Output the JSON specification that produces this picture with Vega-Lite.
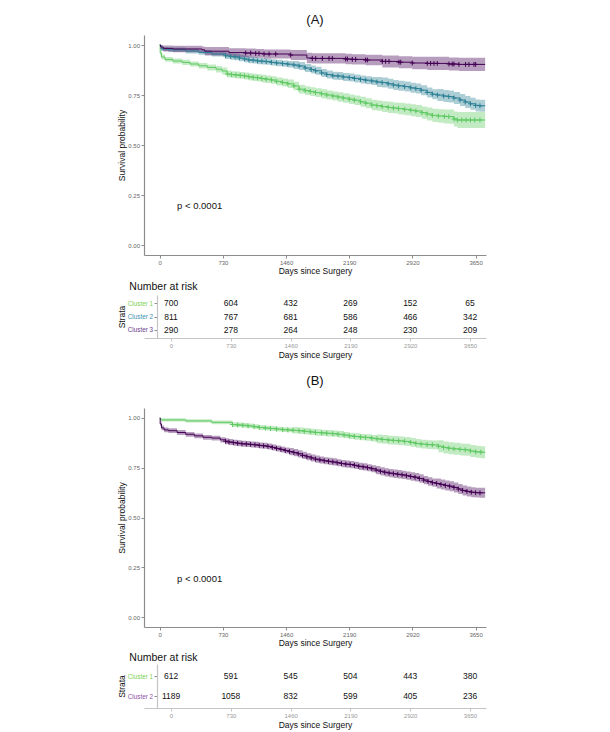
{
  "$schema": "https://vega.github.io/schema/vega-lite/v6.json",
  "background": "white",
  "padding": {"left": 117, "top": 14, "right": 10, "bottom": 2},
  "config": {
    "font": "Liberation Sans",
    "view": {"stroke": null},
    "axis": {
      "grid": false,
      "domainColor": "#8c8c8c",
      "domainWidth": 1.2,
      "tickColor": "#8c8c8c",
      "tickSize": 3,
      "labelColor": "#666666",
      "labelFontSize": 6,
      "labelPadding": 1.5,
      "titleFontSize": 8.5,
      "titleFontWeight": "normal",
      "titleColor": "#111111",
      "titlePadding": 1
    },
    "title": {"fontSize": 13, "fontWeight": "normal", "color": "#111111"}
  },
  "datasets": {
    "km": [
      {"p":"A","g":"Cluster 1","t":0,"s":1,"lo":1,"hi":1,"c":0},
      {"p":"A","g":"Cluster 1","t":5,"s":0.96,"lo":0.948,"hi":0.972,"c":0},
      {"p":"A","g":"Cluster 1","t":20,"s":0.94,"lo":0.928,"hi":0.952,"c":0},
      {"p":"A","g":"Cluster 1","t":60,"s":0.928,"lo":0.916,"hi":0.94,"c":0},
      {"p":"A","g":"Cluster 1","t":150,"s":0.92,"lo":0.907,"hi":0.933,"c":0},
      {"p":"A","g":"Cluster 1","t":260,"s":0.913,"lo":0.9,"hi":0.926,"c":0},
      {"p":"A","g":"Cluster 1","t":350,"s":0.905,"lo":0.892,"hi":0.918,"c":0},
      {"p":"A","g":"Cluster 1","t":450,"s":0.896,"lo":0.882,"hi":0.91,"c":0},
      {"p":"A","g":"Cluster 1","t":550,"s":0.888,"lo":0.873,"hi":0.903,"c":0},
      {"p":"A","g":"Cluster 1","t":650,"s":0.879,"lo":0.863,"hi":0.895,"c":0},
      {"p":"A","g":"Cluster 1","t":720,"s":0.87,"lo":0.853,"hi":0.887,"c":0},
      {"p":"A","g":"Cluster 1","t":780,"s":0.855,"lo":0.838,"hi":0.872,"c":1},
      {"p":"A","g":"Cluster 1","t":830,"s":0.852,"lo":0.835,"hi":0.869,"c":1},
      {"p":"A","g":"Cluster 1","t":880,"s":0.85,"lo":0.833,"hi":0.867,"c":1},
      {"p":"A","g":"Cluster 1","t":930,"s":0.848,"lo":0.831,"hi":0.865,"c":1},
      {"p":"A","g":"Cluster 1","t":980,"s":0.845,"lo":0.828,"hi":0.862,"c":1},
      {"p":"A","g":"Cluster 1","t":1030,"s":0.841,"lo":0.823,"hi":0.859,"c":1},
      {"p":"A","g":"Cluster 1","t":1080,"s":0.838,"lo":0.82,"hi":0.856,"c":1},
      {"p":"A","g":"Cluster 1","t":1130,"s":0.836,"lo":0.818,"hi":0.854,"c":1},
      {"p":"A","g":"Cluster 1","t":1180,"s":0.832,"lo":0.813,"hi":0.851,"c":1},
      {"p":"A","g":"Cluster 1","t":1230,"s":0.829,"lo":0.81,"hi":0.848,"c":1},
      {"p":"A","g":"Cluster 1","t":1290,"s":0.825,"lo":0.806,"hi":0.844,"c":1},
      {"p":"A","g":"Cluster 1","t":1350,"s":0.818,"lo":0.798,"hi":0.838,"c":1},
      {"p":"A","g":"Cluster 1","t":1420,"s":0.812,"lo":0.792,"hi":0.832,"c":1},
      {"p":"A","g":"Cluster 1","t":1480,"s":0.806,"lo":0.785,"hi":0.827,"c":1},
      {"p":"A","g":"Cluster 1","t":1550,"s":0.795,"lo":0.774,"hi":0.816,"c":1},
      {"p":"A","g":"Cluster 1","t":1610,"s":0.779,"lo":0.757,"hi":0.801,"c":1},
      {"p":"A","g":"Cluster 1","t":1680,"s":0.772,"lo":0.75,"hi":0.794,"c":1},
      {"p":"A","g":"Cluster 1","t":1740,"s":0.767,"lo":0.745,"hi":0.789,"c":1},
      {"p":"A","g":"Cluster 1","t":1800,"s":0.762,"lo":0.74,"hi":0.784,"c":1},
      {"p":"A","g":"Cluster 1","t":1870,"s":0.756,"lo":0.733,"hi":0.779,"c":1},
      {"p":"A","g":"Cluster 1","t":1930,"s":0.75,"lo":0.727,"hi":0.773,"c":1},
      {"p":"A","g":"Cluster 1","t":2000,"s":0.745,"lo":0.722,"hi":0.768,"c":1},
      {"p":"A","g":"Cluster 1","t":2060,"s":0.74,"lo":0.716,"hi":0.764,"c":1},
      {"p":"A","g":"Cluster 1","t":2120,"s":0.735,"lo":0.711,"hi":0.759,"c":1},
      {"p":"A","g":"Cluster 1","t":2190,"s":0.729,"lo":0.705,"hi":0.753,"c":1},
      {"p":"A","g":"Cluster 1","t":2250,"s":0.724,"lo":0.7,"hi":0.748,"c":1},
      {"p":"A","g":"Cluster 1","t":2320,"s":0.716,"lo":0.691,"hi":0.741,"c":1},
      {"p":"A","g":"Cluster 1","t":2380,"s":0.709,"lo":0.684,"hi":0.734,"c":1},
      {"p":"A","g":"Cluster 1","t":2450,"s":0.7,"lo":0.674,"hi":0.726,"c":1},
      {"p":"A","g":"Cluster 1","t":2510,"s":0.697,"lo":0.671,"hi":0.723,"c":1},
      {"p":"A","g":"Cluster 1","t":2570,"s":0.692,"lo":0.665,"hi":0.719,"c":1},
      {"p":"A","g":"Cluster 1","t":2640,"s":0.688,"lo":0.66,"hi":0.716,"c":1},
      {"p":"A","g":"Cluster 1","t":2700,"s":0.685,"lo":0.657,"hi":0.713,"c":1},
      {"p":"A","g":"Cluster 1","t":2760,"s":0.682,"lo":0.653,"hi":0.711,"c":1},
      {"p":"A","g":"Cluster 1","t":2830,"s":0.678,"lo":0.649,"hi":0.707,"c":1},
      {"p":"A","g":"Cluster 1","t":2900,"s":0.674,"lo":0.644,"hi":0.704,"c":1},
      {"p":"A","g":"Cluster 1","t":2960,"s":0.67,"lo":0.64,"hi":0.7,"c":1},
      {"p":"A","g":"Cluster 1","t":3030,"s":0.662,"lo":0.631,"hi":0.693,"c":1},
      {"p":"A","g":"Cluster 1","t":3090,"s":0.655,"lo":0.623,"hi":0.687,"c":1},
      {"p":"A","g":"Cluster 1","t":3150,"s":0.648,"lo":0.615,"hi":0.681,"c":1},
      {"p":"A","g":"Cluster 1","t":3220,"s":0.645,"lo":0.611,"hi":0.679,"c":1},
      {"p":"A","g":"Cluster 1","t":3290,"s":0.643,"lo":0.608,"hi":0.678,"c":1},
      {"p":"A","g":"Cluster 1","t":3340,"s":0.642,"lo":0.606,"hi":0.678,"c":1},
      {"p":"A","g":"Cluster 1","t":3400,"s":0.63,"lo":0.592,"hi":0.668,"c":1},
      {"p":"A","g":"Cluster 1","t":3440,"s":0.625,"lo":0.585,"hi":0.665,"c":1},
      {"p":"A","g":"Cluster 1","t":3490,"s":0.625,"lo":0.585,"hi":0.665,"c":1},
      {"p":"A","g":"Cluster 1","t":3540,"s":0.625,"lo":0.585,"hi":0.665,"c":1},
      {"p":"A","g":"Cluster 1","t":3590,"s":0.625,"lo":0.585,"hi":0.665,"c":1},
      {"p":"A","g":"Cluster 1","t":3640,"s":0.625,"lo":0.585,"hi":0.665,"c":1},
      {"p":"A","g":"Cluster 1","t":3700,"s":0.625,"lo":0.585,"hi":0.665,"c":1},
      {"p":"A","g":"Cluster 1","t":3760,"s":0.625,"lo":0.585,"hi":0.665,"c":0},

      {"p":"A","g":"Cluster 2","t":0,"s":1,"lo":1,"hi":1,"c":0},
      {"p":"A","g":"Cluster 2","t":15,"s":0.98,"lo":0.97,"hi":0.99,"c":0},
      {"p":"A","g":"Cluster 2","t":100,"s":0.976,"lo":0.965,"hi":0.987,"c":0},
      {"p":"A","g":"Cluster 2","t":300,"s":0.97,"lo":0.958,"hi":0.982,"c":0},
      {"p":"A","g":"Cluster 2","t":450,"s":0.963,"lo":0.951,"hi":0.975,"c":0},
      {"p":"A","g":"Cluster 2","t":600,"s":0.955,"lo":0.943,"hi":0.967,"c":0},
      {"p":"A","g":"Cluster 2","t":760,"s":0.946,"lo":0.93,"hi":0.962,"c":1},
      {"p":"A","g":"Cluster 2","t":820,"s":0.942,"lo":0.926,"hi":0.958,"c":1},
      {"p":"A","g":"Cluster 2","t":870,"s":0.94,"lo":0.924,"hi":0.956,"c":1},
      {"p":"A","g":"Cluster 2","t":920,"s":0.935,"lo":0.919,"hi":0.951,"c":1},
      {"p":"A","g":"Cluster 2","t":980,"s":0.93,"lo":0.914,"hi":0.946,"c":1},
      {"p":"A","g":"Cluster 2","t":1030,"s":0.925,"lo":0.909,"hi":0.941,"c":1},
      {"p":"A","g":"Cluster 2","t":1080,"s":0.924,"lo":0.908,"hi":0.94,"c":1},
      {"p":"A","g":"Cluster 2","t":1130,"s":0.92,"lo":0.904,"hi":0.936,"c":1},
      {"p":"A","g":"Cluster 2","t":1180,"s":0.919,"lo":0.903,"hi":0.935,"c":1},
      {"p":"A","g":"Cluster 2","t":1230,"s":0.917,"lo":0.901,"hi":0.933,"c":1},
      {"p":"A","g":"Cluster 2","t":1290,"s":0.913,"lo":0.897,"hi":0.929,"c":1},
      {"p":"A","g":"Cluster 2","t":1350,"s":0.91,"lo":0.894,"hi":0.926,"c":1},
      {"p":"A","g":"Cluster 2","t":1420,"s":0.907,"lo":0.891,"hi":0.923,"c":1},
      {"p":"A","g":"Cluster 2","t":1480,"s":0.904,"lo":0.888,"hi":0.92,"c":1},
      {"p":"A","g":"Cluster 2","t":1550,"s":0.9,"lo":0.88,"hi":0.92,"c":1},
      {"p":"A","g":"Cluster 2","t":1610,"s":0.895,"lo":0.875,"hi":0.915,"c":1},
      {"p":"A","g":"Cluster 2","t":1680,"s":0.885,"lo":0.865,"hi":0.905,"c":1},
      {"p":"A","g":"Cluster 2","t":1750,"s":0.877,"lo":0.857,"hi":0.897,"c":1},
      {"p":"A","g":"Cluster 2","t":1800,"s":0.871,"lo":0.851,"hi":0.891,"c":1},
      {"p":"A","g":"Cluster 2","t":1870,"s":0.86,"lo":0.84,"hi":0.88,"c":1},
      {"p":"A","g":"Cluster 2","t":1930,"s":0.852,"lo":0.832,"hi":0.872,"c":1},
      {"p":"A","g":"Cluster 2","t":2000,"s":0.846,"lo":0.826,"hi":0.866,"c":1},
      {"p":"A","g":"Cluster 2","t":2060,"s":0.845,"lo":0.825,"hi":0.865,"c":1},
      {"p":"A","g":"Cluster 2","t":2120,"s":0.84,"lo":0.82,"hi":0.86,"c":1},
      {"p":"A","g":"Cluster 2","t":2190,"s":0.837,"lo":0.817,"hi":0.857,"c":1},
      {"p":"A","g":"Cluster 2","t":2250,"s":0.833,"lo":0.813,"hi":0.853,"c":1},
      {"p":"A","g":"Cluster 2","t":2320,"s":0.828,"lo":0.808,"hi":0.848,"c":1},
      {"p":"A","g":"Cluster 2","t":2380,"s":0.824,"lo":0.804,"hi":0.844,"c":1},
      {"p":"A","g":"Cluster 2","t":2450,"s":0.82,"lo":0.8,"hi":0.84,"c":1},
      {"p":"A","g":"Cluster 2","t":2510,"s":0.815,"lo":0.79,"hi":0.84,"c":1},
      {"p":"A","g":"Cluster 2","t":2570,"s":0.812,"lo":0.787,"hi":0.837,"c":1},
      {"p":"A","g":"Cluster 2","t":2640,"s":0.806,"lo":0.781,"hi":0.831,"c":1},
      {"p":"A","g":"Cluster 2","t":2700,"s":0.8,"lo":0.775,"hi":0.825,"c":1},
      {"p":"A","g":"Cluster 2","t":2760,"s":0.796,"lo":0.771,"hi":0.821,"c":1},
      {"p":"A","g":"Cluster 2","t":2830,"s":0.792,"lo":0.767,"hi":0.817,"c":1},
      {"p":"A","g":"Cluster 2","t":2900,"s":0.786,"lo":0.761,"hi":0.811,"c":1},
      {"p":"A","g":"Cluster 2","t":2960,"s":0.782,"lo":0.757,"hi":0.807,"c":1},
      {"p":"A","g":"Cluster 2","t":3020,"s":0.774,"lo":0.749,"hi":0.799,"c":1},
      {"p":"A","g":"Cluster 2","t":3090,"s":0.763,"lo":0.738,"hi":0.788,"c":1},
      {"p":"A","g":"Cluster 2","t":3150,"s":0.754,"lo":0.729,"hi":0.779,"c":1},
      {"p":"A","g":"Cluster 2","t":3210,"s":0.75,"lo":0.72,"hi":0.78,"c":1},
      {"p":"A","g":"Cluster 2","t":3280,"s":0.745,"lo":0.715,"hi":0.775,"c":1},
      {"p":"A","g":"Cluster 2","t":3340,"s":0.742,"lo":0.712,"hi":0.772,"c":1},
      {"p":"A","g":"Cluster 2","t":3400,"s":0.735,"lo":0.705,"hi":0.765,"c":1},
      {"p":"A","g":"Cluster 2","t":3470,"s":0.725,"lo":0.695,"hi":0.755,"c":1},
      {"p":"A","g":"Cluster 2","t":3530,"s":0.715,"lo":0.685,"hi":0.745,"c":1},
      {"p":"A","g":"Cluster 2","t":3590,"s":0.706,"lo":0.676,"hi":0.736,"c":1},
      {"p":"A","g":"Cluster 2","t":3650,"s":0.698,"lo":0.668,"hi":0.728,"c":1},
      {"p":"A","g":"Cluster 2","t":3700,"s":0.696,"lo":0.666,"hi":0.726,"c":1},
      {"p":"A","g":"Cluster 2","t":3760,"s":0.695,"lo":0.665,"hi":0.725,"c":0},

      {"p":"A","g":"Cluster 3","t":0,"s":1,"lo":1,"hi":1,"c":0},
      {"p":"A","g":"Cluster 3","t":10,"s":0.99,"lo":0.978,"hi":1,"c":0},
      {"p":"A","g":"Cluster 3","t":40,"s":0.983,"lo":0.968,"hi":0.998,"c":0},
      {"p":"A","g":"Cluster 3","t":150,"s":0.98,"lo":0.964,"hi":0.996,"c":0},
      {"p":"A","g":"Cluster 3","t":490,"s":0.976,"lo":0.959,"hi":0.993,"c":0},
      {"p":"A","g":"Cluster 3","t":520,"s":0.969,"lo":0.948,"hi":0.99,"c":0},
      {"p":"A","g":"Cluster 3","t":800,"s":0.962,"lo":0.94,"hi":0.984,"c":0},
      {"p":"A","g":"Cluster 3","t":993,"s":0.96,"lo":0.938,"hi":0.982,"c":1},
      {"p":"A","g":"Cluster 3","t":1051,"s":0.96,"lo":0.938,"hi":0.982,"c":1},
      {"p":"A","g":"Cluster 3","t":1109,"s":0.958,"lo":0.936,"hi":0.98,"c":1},
      {"p":"A","g":"Cluster 3","t":1147,"s":0.958,"lo":0.936,"hi":0.98,"c":1},
      {"p":"A","g":"Cluster 3","t":1205,"s":0.955,"lo":0.933,"hi":0.977,"c":1},
      {"p":"A","g":"Cluster 3","t":1263,"s":0.955,"lo":0.933,"hi":0.977,"c":1},
      {"p":"A","g":"Cluster 3","t":1340,"s":0.955,"lo":0.933,"hi":0.977,"c":1},
      {"p":"A","g":"Cluster 3","t":1513,"s":0.95,"lo":0.925,"hi":0.975,"c":1},
      {"p":"A","g":"Cluster 3","t":1700,"s":0.935,"lo":0.909,"hi":0.961,"c":0},
      {"p":"A","g":"Cluster 3","t":1763,"s":0.933,"lo":0.907,"hi":0.959,"c":1},
      {"p":"A","g":"Cluster 3","t":1802,"s":0.933,"lo":0.907,"hi":0.959,"c":1},
      {"p":"A","g":"Cluster 3","t":1879,"s":0.933,"lo":0.907,"hi":0.959,"c":1},
      {"p":"A","g":"Cluster 3","t":1956,"s":0.933,"lo":0.907,"hi":0.959,"c":1},
      {"p":"A","g":"Cluster 3","t":1994,"s":0.933,"lo":0.907,"hi":0.959,"c":1},
      {"p":"A","g":"Cluster 3","t":2148,"s":0.93,"lo":0.904,"hi":0.956,"c":1},
      {"p":"A","g":"Cluster 3","t":2168,"s":0.93,"lo":0.904,"hi":0.956,"c":1},
      {"p":"A","g":"Cluster 3","t":2225,"s":0.928,"lo":0.902,"hi":0.954,"c":1},
      {"p":"A","g":"Cluster 3","t":2264,"s":0.928,"lo":0.902,"hi":0.954,"c":1},
      {"p":"A","g":"Cluster 3","t":2379,"s":0.925,"lo":0.899,"hi":0.951,"c":1},
      {"p":"A","g":"Cluster 3","t":2399,"s":0.925,"lo":0.899,"hi":0.951,"c":1},
      {"p":"A","g":"Cluster 3","t":2572,"s":0.918,"lo":0.888,"hi":0.948,"c":1},
      {"p":"A","g":"Cluster 3","t":2610,"s":0.918,"lo":0.888,"hi":0.948,"c":1},
      {"p":"A","g":"Cluster 3","t":2649,"s":0.918,"lo":0.888,"hi":0.948,"c":1},
      {"p":"A","g":"Cluster 3","t":2764,"s":0.914,"lo":0.884,"hi":0.944,"c":1},
      {"p":"A","g":"Cluster 3","t":2784,"s":0.914,"lo":0.884,"hi":0.944,"c":1},
      {"p":"A","g":"Cluster 3","t":2918,"s":0.91,"lo":0.879,"hi":0.941,"c":1},
      {"p":"A","g":"Cluster 3","t":3092,"s":0.908,"lo":0.875,"hi":0.941,"c":1},
      {"p":"A","g":"Cluster 3","t":3130,"s":0.908,"lo":0.875,"hi":0.941,"c":1},
      {"p":"A","g":"Cluster 3","t":3169,"s":0.908,"lo":0.875,"hi":0.941,"c":1},
      {"p":"A","g":"Cluster 3","t":3207,"s":0.908,"lo":0.875,"hi":0.941,"c":1},
      {"p":"A","g":"Cluster 3","t":3342,"s":0.905,"lo":0.872,"hi":0.938,"c":1},
      {"p":"A","g":"Cluster 3","t":3380,"s":0.905,"lo":0.872,"hi":0.938,"c":1},
      {"p":"A","g":"Cluster 3","t":3400,"s":0.905,"lo":0.872,"hi":0.938,"c":1},
      {"p":"A","g":"Cluster 3","t":3457,"s":0.903,"lo":0.87,"hi":0.936,"c":1},
      {"p":"A","g":"Cluster 3","t":3534,"s":0.903,"lo":0.87,"hi":0.936,"c":1},
      {"p":"A","g":"Cluster 3","t":3573,"s":0.903,"lo":0.87,"hi":0.936,"c":1},
      {"p":"A","g":"Cluster 3","t":3631,"s":0.903,"lo":0.87,"hi":0.936,"c":1},
      {"p":"A","g":"Cluster 3","t":3650,"s":0.903,"lo":0.87,"hi":0.936,"c":1},
      {"p":"A","g":"Cluster 3","t":3760,"s":0.903,"lo":0.87,"hi":0.936,"c":0},

      {"p":"B","g":"Cluster 1","t":0,"s":1,"lo":1,"hi":1,"c":0},
      {"p":"B","g":"Cluster 1","t":10,"s":0.99,"lo":0.982,"hi":0.998,"c":0},
      {"p":"B","g":"Cluster 1","t":300,"s":0.985,"lo":0.977,"hi":0.993,"c":0},
      {"p":"B","g":"Cluster 1","t":600,"s":0.978,"lo":0.969,"hi":0.987,"c":0},
      {"p":"B","g":"Cluster 1","t":840,"s":0.967,"lo":0.955,"hi":0.979,"c":1},
      {"p":"B","g":"Cluster 1","t":900,"s":0.965,"lo":0.953,"hi":0.977,"c":1},
      {"p":"B","g":"Cluster 1","t":960,"s":0.963,"lo":0.951,"hi":0.975,"c":1},
      {"p":"B","g":"Cluster 1","t":1020,"s":0.96,"lo":0.948,"hi":0.972,"c":1},
      {"p":"B","g":"Cluster 1","t":1090,"s":0.956,"lo":0.944,"hi":0.968,"c":1},
      {"p":"B","g":"Cluster 1","t":1150,"s":0.952,"lo":0.94,"hi":0.964,"c":1},
      {"p":"B","g":"Cluster 1","t":1220,"s":0.949,"lo":0.937,"hi":0.961,"c":1},
      {"p":"B","g":"Cluster 1","t":1280,"s":0.947,"lo":0.935,"hi":0.959,"c":1},
      {"p":"B","g":"Cluster 1","t":1350,"s":0.944,"lo":0.932,"hi":0.956,"c":1},
      {"p":"B","g":"Cluster 1","t":1420,"s":0.941,"lo":0.929,"hi":0.953,"c":1},
      {"p":"B","g":"Cluster 1","t":1480,"s":0.94,"lo":0.928,"hi":0.952,"c":1},
      {"p":"B","g":"Cluster 1","t":1540,"s":0.938,"lo":0.922,"hi":0.954,"c":1},
      {"p":"B","g":"Cluster 1","t":1610,"s":0.936,"lo":0.92,"hi":0.952,"c":1},
      {"p":"B","g":"Cluster 1","t":1670,"s":0.933,"lo":0.917,"hi":0.949,"c":1},
      {"p":"B","g":"Cluster 1","t":1740,"s":0.93,"lo":0.914,"hi":0.946,"c":1},
      {"p":"B","g":"Cluster 1","t":1800,"s":0.927,"lo":0.911,"hi":0.943,"c":1},
      {"p":"B","g":"Cluster 1","t":1870,"s":0.925,"lo":0.909,"hi":0.941,"c":1},
      {"p":"B","g":"Cluster 1","t":1930,"s":0.923,"lo":0.907,"hi":0.939,"c":1},
      {"p":"B","g":"Cluster 1","t":2000,"s":0.921,"lo":0.905,"hi":0.937,"c":1},
      {"p":"B","g":"Cluster 1","t":2060,"s":0.918,"lo":0.902,"hi":0.934,"c":1},
      {"p":"B","g":"Cluster 1","t":2130,"s":0.914,"lo":0.898,"hi":0.93,"c":1},
      {"p":"B","g":"Cluster 1","t":2190,"s":0.91,"lo":0.894,"hi":0.926,"c":1},
      {"p":"B","g":"Cluster 1","t":2250,"s":0.907,"lo":0.891,"hi":0.923,"c":1},
      {"p":"B","g":"Cluster 1","t":2320,"s":0.904,"lo":0.888,"hi":0.92,"c":1},
      {"p":"B","g":"Cluster 1","t":2380,"s":0.902,"lo":0.886,"hi":0.918,"c":1},
      {"p":"B","g":"Cluster 1","t":2450,"s":0.898,"lo":0.882,"hi":0.914,"c":1},
      {"p":"B","g":"Cluster 1","t":2510,"s":0.895,"lo":0.873,"hi":0.917,"c":1},
      {"p":"B","g":"Cluster 1","t":2570,"s":0.892,"lo":0.87,"hi":0.914,"c":1},
      {"p":"B","g":"Cluster 1","t":2640,"s":0.889,"lo":0.867,"hi":0.911,"c":1},
      {"p":"B","g":"Cluster 1","t":2700,"s":0.887,"lo":0.865,"hi":0.909,"c":1},
      {"p":"B","g":"Cluster 1","t":2760,"s":0.885,"lo":0.863,"hi":0.907,"c":1},
      {"p":"B","g":"Cluster 1","t":2830,"s":0.882,"lo":0.86,"hi":0.904,"c":1},
      {"p":"B","g":"Cluster 1","t":2900,"s":0.877,"lo":0.855,"hi":0.899,"c":1},
      {"p":"B","g":"Cluster 1","t":2960,"s":0.872,"lo":0.85,"hi":0.894,"c":1},
      {"p":"B","g":"Cluster 1","t":3020,"s":0.869,"lo":0.847,"hi":0.891,"c":1},
      {"p":"B","g":"Cluster 1","t":3090,"s":0.866,"lo":0.844,"hi":0.888,"c":1},
      {"p":"B","g":"Cluster 1","t":3150,"s":0.865,"lo":0.843,"hi":0.887,"c":1},
      {"p":"B","g":"Cluster 1","t":3220,"s":0.858,"lo":0.828,"hi":0.888,"c":1},
      {"p":"B","g":"Cluster 1","t":3280,"s":0.852,"lo":0.822,"hi":0.882,"c":1},
      {"p":"B","g":"Cluster 1","t":3340,"s":0.848,"lo":0.818,"hi":0.878,"c":1},
      {"p":"B","g":"Cluster 1","t":3400,"s":0.845,"lo":0.815,"hi":0.875,"c":1},
      {"p":"B","g":"Cluster 1","t":3470,"s":0.842,"lo":0.812,"hi":0.872,"c":1},
      {"p":"B","g":"Cluster 1","t":3530,"s":0.84,"lo":0.81,"hi":0.87,"c":1},
      {"p":"B","g":"Cluster 1","t":3590,"s":0.834,"lo":0.804,"hi":0.864,"c":1},
      {"p":"B","g":"Cluster 1","t":3650,"s":0.83,"lo":0.8,"hi":0.86,"c":1},
      {"p":"B","g":"Cluster 1","t":3710,"s":0.828,"lo":0.798,"hi":0.858,"c":1},
      {"p":"B","g":"Cluster 1","t":3760,"s":0.826,"lo":0.796,"hi":0.856,"c":0},

      {"p":"B","g":"Cluster 2","t":0,"s":1,"lo":1,"hi":1,"c":0},
      {"p":"B","g":"Cluster 2","t":5,"s":0.97,"lo":0.958,"hi":0.982,"c":0},
      {"p":"B","g":"Cluster 2","t":20,"s":0.95,"lo":0.938,"hi":0.962,"c":0},
      {"p":"B","g":"Cluster 2","t":50,"s":0.94,"lo":0.928,"hi":0.952,"c":0},
      {"p":"B","g":"Cluster 2","t":100,"s":0.936,"lo":0.924,"hi":0.948,"c":0},
      {"p":"B","g":"Cluster 2","t":200,"s":0.927,"lo":0.915,"hi":0.939,"c":0},
      {"p":"B","g":"Cluster 2","t":300,"s":0.918,"lo":0.906,"hi":0.93,"c":0},
      {"p":"B","g":"Cluster 2","t":400,"s":0.91,"lo":0.898,"hi":0.922,"c":0},
      {"p":"B","g":"Cluster 2","t":500,"s":0.903,"lo":0.891,"hi":0.915,"c":0},
      {"p":"B","g":"Cluster 2","t":600,"s":0.899,"lo":0.887,"hi":0.911,"c":0},
      {"p":"B","g":"Cluster 2","t":700,"s":0.89,"lo":0.877,"hi":0.903,"c":0},
      {"p":"B","g":"Cluster 2","t":760,"s":0.883,"lo":0.868,"hi":0.898,"c":1},
      {"p":"B","g":"Cluster 2","t":800,"s":0.879,"lo":0.864,"hi":0.894,"c":1},
      {"p":"B","g":"Cluster 2","t":850,"s":0.876,"lo":0.861,"hi":0.891,"c":1},
      {"p":"B","g":"Cluster 2","t":900,"s":0.873,"lo":0.858,"hi":0.888,"c":1},
      {"p":"B","g":"Cluster 2","t":950,"s":0.87,"lo":0.855,"hi":0.885,"c":1},
      {"p":"B","g":"Cluster 2","t":1000,"s":0.869,"lo":0.854,"hi":0.884,"c":1},
      {"p":"B","g":"Cluster 2","t":1050,"s":0.867,"lo":0.852,"hi":0.882,"c":1},
      {"p":"B","g":"Cluster 2","t":1100,"s":0.865,"lo":0.85,"hi":0.88,"c":1},
      {"p":"B","g":"Cluster 2","t":1150,"s":0.862,"lo":0.847,"hi":0.877,"c":1},
      {"p":"B","g":"Cluster 2","t":1200,"s":0.86,"lo":0.845,"hi":0.875,"c":1},
      {"p":"B","g":"Cluster 2","t":1250,"s":0.857,"lo":0.842,"hi":0.872,"c":1},
      {"p":"B","g":"Cluster 2","t":1300,"s":0.852,"lo":0.837,"hi":0.867,"c":1},
      {"p":"B","g":"Cluster 2","t":1350,"s":0.847,"lo":0.832,"hi":0.862,"c":1},
      {"p":"B","g":"Cluster 2","t":1400,"s":0.842,"lo":0.827,"hi":0.857,"c":1},
      {"p":"B","g":"Cluster 2","t":1450,"s":0.836,"lo":0.821,"hi":0.851,"c":1},
      {"p":"B","g":"Cluster 2","t":1500,"s":0.831,"lo":0.813,"hi":0.849,"c":1},
      {"p":"B","g":"Cluster 2","t":1550,"s":0.826,"lo":0.808,"hi":0.844,"c":1},
      {"p":"B","g":"Cluster 2","t":1600,"s":0.82,"lo":0.802,"hi":0.838,"c":1},
      {"p":"B","g":"Cluster 2","t":1650,"s":0.812,"lo":0.794,"hi":0.83,"c":1},
      {"p":"B","g":"Cluster 2","t":1700,"s":0.805,"lo":0.787,"hi":0.823,"c":1},
      {"p":"B","g":"Cluster 2","t":1750,"s":0.799,"lo":0.781,"hi":0.817,"c":1},
      {"p":"B","g":"Cluster 2","t":1800,"s":0.793,"lo":0.775,"hi":0.811,"c":1},
      {"p":"B","g":"Cluster 2","t":1850,"s":0.789,"lo":0.771,"hi":0.807,"c":1},
      {"p":"B","g":"Cluster 2","t":1900,"s":0.785,"lo":0.767,"hi":0.803,"c":1},
      {"p":"B","g":"Cluster 2","t":1950,"s":0.782,"lo":0.764,"hi":0.8,"c":1},
      {"p":"B","g":"Cluster 2","t":2000,"s":0.779,"lo":0.761,"hi":0.797,"c":1},
      {"p":"B","g":"Cluster 2","t":2050,"s":0.775,"lo":0.757,"hi":0.793,"c":1},
      {"p":"B","g":"Cluster 2","t":2100,"s":0.771,"lo":0.753,"hi":0.789,"c":1},
      {"p":"B","g":"Cluster 2","t":2150,"s":0.768,"lo":0.75,"hi":0.786,"c":1},
      {"p":"B","g":"Cluster 2","t":2200,"s":0.766,"lo":0.748,"hi":0.784,"c":1},
      {"p":"B","g":"Cluster 2","t":2250,"s":0.762,"lo":0.744,"hi":0.78,"c":1},
      {"p":"B","g":"Cluster 2","t":2300,"s":0.757,"lo":0.739,"hi":0.775,"c":1},
      {"p":"B","g":"Cluster 2","t":2350,"s":0.754,"lo":0.736,"hi":0.772,"c":1},
      {"p":"B","g":"Cluster 2","t":2400,"s":0.75,"lo":0.732,"hi":0.768,"c":1},
      {"p":"B","g":"Cluster 2","t":2450,"s":0.745,"lo":0.727,"hi":0.763,"c":1},
      {"p":"B","g":"Cluster 2","t":2500,"s":0.738,"lo":0.717,"hi":0.759,"c":1},
      {"p":"B","g":"Cluster 2","t":2550,"s":0.732,"lo":0.711,"hi":0.753,"c":1},
      {"p":"B","g":"Cluster 2","t":2600,"s":0.727,"lo":0.706,"hi":0.748,"c":1},
      {"p":"B","g":"Cluster 2","t":2650,"s":0.723,"lo":0.702,"hi":0.744,"c":1},
      {"p":"B","g":"Cluster 2","t":2700,"s":0.72,"lo":0.699,"hi":0.741,"c":1},
      {"p":"B","g":"Cluster 2","t":2750,"s":0.717,"lo":0.696,"hi":0.738,"c":1},
      {"p":"B","g":"Cluster 2","t":2800,"s":0.714,"lo":0.693,"hi":0.735,"c":1},
      {"p":"B","g":"Cluster 2","t":2850,"s":0.71,"lo":0.689,"hi":0.731,"c":1},
      {"p":"B","g":"Cluster 2","t":2900,"s":0.706,"lo":0.685,"hi":0.727,"c":1},
      {"p":"B","g":"Cluster 2","t":2950,"s":0.702,"lo":0.681,"hi":0.723,"c":1},
      {"p":"B","g":"Cluster 2","t":3000,"s":0.696,"lo":0.675,"hi":0.717,"c":1},
      {"p":"B","g":"Cluster 2","t":3050,"s":0.688,"lo":0.667,"hi":0.709,"c":1},
      {"p":"B","g":"Cluster 2","t":3100,"s":0.681,"lo":0.66,"hi":0.702,"c":1},
      {"p":"B","g":"Cluster 2","t":3150,"s":0.675,"lo":0.654,"hi":0.696,"c":1},
      {"p":"B","g":"Cluster 2","t":3200,"s":0.671,"lo":0.646,"hi":0.696,"c":1},
      {"p":"B","g":"Cluster 2","t":3250,"s":0.666,"lo":0.641,"hi":0.691,"c":1},
      {"p":"B","g":"Cluster 2","t":3300,"s":0.661,"lo":0.636,"hi":0.686,"c":1},
      {"p":"B","g":"Cluster 2","t":3350,"s":0.657,"lo":0.632,"hi":0.682,"c":1},
      {"p":"B","g":"Cluster 2","t":3400,"s":0.651,"lo":0.626,"hi":0.676,"c":1},
      {"p":"B","g":"Cluster 2","t":3450,"s":0.643,"lo":0.618,"hi":0.668,"c":1},
      {"p":"B","g":"Cluster 2","t":3500,"s":0.636,"lo":0.611,"hi":0.661,"c":1},
      {"p":"B","g":"Cluster 2","t":3550,"s":0.631,"lo":0.606,"hi":0.656,"c":1},
      {"p":"B","g":"Cluster 2","t":3600,"s":0.627,"lo":0.602,"hi":0.652,"c":1},
      {"p":"B","g":"Cluster 2","t":3650,"s":0.625,"lo":0.6,"hi":0.65,"c":1},
      {"p":"B","g":"Cluster 2","t":3700,"s":0.624,"lo":0.599,"hi":0.649,"c":1},
      {"p":"B","g":"Cluster 2","t":3760,"s":0.624,"lo":0.599,"hi":0.649,"c":0}
    ],
    "risk": [
      {"p":"A","g":"Cluster 1","t":0,"n":700},
      {"p":"A","g":"Cluster 1","t":730,"n":604},
      {"p":"A","g":"Cluster 1","t":1460,"n":432},
      {"p":"A","g":"Cluster 1","t":2190,"n":269},
      {"p":"A","g":"Cluster 1","t":2920,"n":152},
      {"p":"A","g":"Cluster 1","t":3650,"n":65},
      {"p":"A","g":"Cluster 2","t":0,"n":811},
      {"p":"A","g":"Cluster 2","t":730,"n":767},
      {"p":"A","g":"Cluster 2","t":1460,"n":681},
      {"p":"A","g":"Cluster 2","t":2190,"n":586},
      {"p":"A","g":"Cluster 2","t":2920,"n":466},
      {"p":"A","g":"Cluster 2","t":3650,"n":342},
      {"p":"A","g":"Cluster 3","t":0,"n":290},
      {"p":"A","g":"Cluster 3","t":730,"n":278},
      {"p":"A","g":"Cluster 3","t":1460,"n":264},
      {"p":"A","g":"Cluster 3","t":2190,"n":248},
      {"p":"A","g":"Cluster 3","t":2920,"n":230},
      {"p":"A","g":"Cluster 3","t":3650,"n":209},
      {"p":"B","g":"Cluster 1","t":0,"n":612},
      {"p":"B","g":"Cluster 1","t":730,"n":591},
      {"p":"B","g":"Cluster 1","t":1460,"n":545},
      {"p":"B","g":"Cluster 1","t":2190,"n":504},
      {"p":"B","g":"Cluster 1","t":2920,"n":443},
      {"p":"B","g":"Cluster 1","t":3650,"n":380},
      {"p":"B","g":"Cluster 2","t":0,"n":1189},
      {"p":"B","g":"Cluster 2","t":730,"n":1058},
      {"p":"B","g":"Cluster 2","t":1460,"n":832},
      {"p":"B","g":"Cluster 2","t":2190,"n":599},
      {"p":"B","g":"Cluster 2","t":2920,"n":405},
      {"p":"B","g":"Cluster 2","t":3650,"n":236}
    ],
    "pval": [
      {"p":"A","t":200,"s":0.197,"label":"p < 0.0001"},
      {"p":"B","t":200,"s":0.19,"label":"p < 0.0001"}
    ]
  },
  "resolve": {"scale": {"x": "independent", "y": "independent", "color": "independent"}},
  "spacing": 16,
  "vconcat": [
    {
      "resolve": {"scale": {"x": "independent", "y": "independent", "color": "independent"}},
      "spacing": 6,
      "vconcat": [
        {
          "title": {"text": "(A)", "anchor": "middle", "offset": 8},
          "width": 342,
          "height": 220,
          "data": {"name": "km"},
          "transform": [{"filter": "datum.p == 'A'"}],
          "encoding": {
            "x": {"field": "t", "type": "quantitative", "scale": {"domain": [-182, 3770], "nice": false, "zero": false}, "axis": {"values": [0, 730, 1460, 2190, 2920, 3650], "format": "d", "title": "Days since Surgery"}},
            "y": {"field": "s", "type": "quantitative", "scale": {"domain": [-0.05, 1.05], "nice": false, "zero": false}, "axis": {"values": [0, 0.25, 0.5, 0.75, 1], "format": ".2f", "title": "Survival probability"}},
            "color": {"field": "g", "type": "nominal", "scale": {"domain": ["Cluster 1", "Cluster 2", "Cluster 3"], "range": ["#5EC962", "#2A7F94", "#440154"]}, "legend": null}
          },
          "layer": [
            {"mark": {"type": "area", "interpolate": "step-after", "opacity": 0.38}, "encoding": {"y": {"field": "lo", "type": "quantitative", "title": "Survival probability"}, "y2": {"field": "hi"}}},
            {"mark": {"type": "line", "interpolate": "step-after", "strokeWidth": 1}},
            {"transform": [{"filter": "datum.c == 1"}], "mark": {"type": "point", "shape": "M-1,0L1,0M0,-1L0,1", "filled": false, "size": 24, "strokeWidth": 1, "opacity": 1}},
            {"data": {"name": "pval"}, "transform": [{"filter": "datum.p == 'A'"}], "mark": {"type": "text", "align": "left", "baseline": "middle", "fontSize": 9.5}, "encoding": {"text": {"field": "label"}, "color": {"value": "#111111"}}}
          ]
        },
        {
          "title": {"text": "Number at risk", "anchor": "start", "fontSize": 10.5, "offset": 3, "dx": 12},
          "width": 342,
          "height": 43,
          "data": {"name": "risk"},
          "transform": [{"filter": "datum.p == 'A'"}],
          "mark": {"type": "text", "fontSize": 8.5, "color": "#111111"},
          "encoding": {
            "x": {"field": "t", "type": "quantitative", "scale": {"domain": [-330, 3845], "nice": false, "zero": false}, "axis": {"values": [0, 730, 1460, 2190, 2920, 3650], "format": "d", "title": "Days since Surgery", "titlePadding": 2, "domainColor": "#c4c4c4", "tickColor": "#c4c4c4", "labelColor": "#999999"}},
            "y": {"field": "g", "type": "nominal", "scale": {"type": "point", "padding": 0.6, "domain": ["Cluster 1", "Cluster 2", "Cluster 3"]}, "axis": {"title": "Strata", "offset": -13, "titlePadding": 1, "labelFontSize": 6.3, "domainColor": "#c4c4c4", "labelColor": {"condition": [{"test": "datum.label == 'Cluster 1'", "value": "#7AD151"}, {"test": "datum.label == 'Cluster 2'", "value": "#3B8FB0"}], "value": "#6A3D8C"}}},
            "text": {"field": "n", "type": "quantitative", "format": "d"}
          }
        }
      ]
    },
    {
      "resolve": {"scale": {"x": "independent", "y": "independent", "color": "independent"}},
      "spacing": 5,
      "vconcat": [
        {
          "title": {"text": "(B)", "anchor": "middle", "offset": 20},
          "width": 342,
          "height": 219,
          "data": {"name": "km"},
          "transform": [{"filter": "datum.p == 'B'"}],
          "encoding": {
            "x": {"field": "t", "type": "quantitative", "scale": {"domain": [-182, 3770], "nice": false, "zero": false}, "axis": {"values": [0, 730, 1460, 2190, 2920, 3650], "format": "d", "title": "Days since Surgery"}},
            "y": {"field": "s", "type": "quantitative", "scale": {"domain": [-0.05, 1.05], "nice": false, "zero": false}, "axis": {"values": [0, 0.25, 0.5, 0.75, 1], "format": ".2f", "title": "Survival probability"}},
            "color": {"field": "g", "type": "nominal", "scale": {"domain": ["Cluster 1", "Cluster 2"], "range": ["#5EC962", "#440154"]}, "legend": null}
          },
          "layer": [
            {"mark": {"type": "area", "interpolate": "step-after", "opacity": 0.38}, "encoding": {"y": {"field": "lo", "type": "quantitative", "title": "Survival probability"}, "y2": {"field": "hi"}}},
            {"mark": {"type": "line", "interpolate": "step-after", "strokeWidth": 1}},
            {"transform": [{"filter": "datum.c == 1"}], "mark": {"type": "point", "shape": "M-1,0L1,0M0,-1L0,1", "filled": false, "size": 24, "strokeWidth": 1, "opacity": 1}},
            {"data": {"name": "pval"}, "transform": [{"filter": "datum.p == 'B'"}], "mark": {"type": "text", "align": "left", "baseline": "middle", "fontSize": 9.5}, "encoding": {"text": {"field": "label"}, "color": {"value": "#111111"}}}
          ]
        },
        {
          "title": {"text": "Number at risk", "anchor": "start", "fontSize": 10.5, "offset": 1, "dx": 12},
          "width": 342,
          "height": 44,
          "data": {"name": "risk"},
          "transform": [{"filter": "datum.p == 'B'"}],
          "mark": {"type": "text", "fontSize": 8.5, "color": "#111111"},
          "encoding": {
            "x": {"field": "t", "type": "quantitative", "scale": {"domain": [-330, 3845], "nice": false, "zero": false}, "axis": {"values": [0, 730, 1460, 2190, 2920, 3650], "format": "d", "title": "Days since Surgery", "titlePadding": 2, "domainColor": "#c4c4c4", "tickColor": "#c4c4c4", "labelColor": "#999999"}},
            "y": {"field": "g", "type": "nominal", "scale": {"type": "point", "padding": 0.6, "domain": ["Cluster 1", "Cluster 2"]}, "axis": {"title": "Strata", "offset": -13, "titlePadding": 1, "labelFontSize": 6.3, "domainColor": "#c4c4c4", "labelColor": {"condition": [{"test": "datum.label == 'Cluster 1'", "value": "#7AD151"}], "value": "#8A4FA8"}}},
            "text": {"field": "n", "type": "quantitative", "format": "d"}
          }
        }
      ]
    }
  ]
}
